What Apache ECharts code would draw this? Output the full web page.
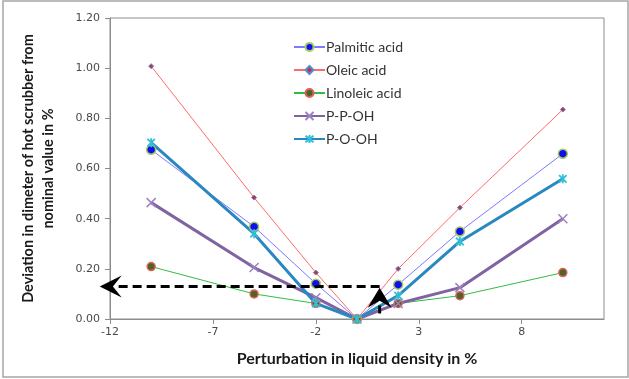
<!DOCTYPE html>
<html>
<head>
<meta charset="utf-8">
<script src="https://cdn.jsdelivr.net/npm/echarts@6/dist/echarts.min.js"></script>
<style>
  html, body { margin: 0; padding: 0; background: #fff; }
  #chart { width: 629px; height: 379px; }
</style>
</head>
<body>
<div id="chart"></div>
<script>
// Perturbation in liquid density (%)
const perturbation = [-10, -5, -2, 0, 2, 5, 10];

// Deviation in hot scrubber diameter (%) for each component
const palmitic = [0.675, 0.368, 0.141, 0.0, 0.137, 0.349, 0.659];
const oleic    = [1.008, 0.484, 0.185, 0.0, 0.200, 0.444, 0.835];
const linoleic = [0.209, 0.100, 0.062, 0.0, 0.062, 0.093, 0.185];
const ppoh     = [0.464, 0.205, 0.085, 0.0, 0.062, 0.125, 0.400];
const pooh     = [0.703, 0.340, 0.062, 0.0, 0.093, 0.309, 0.559];

const guideLevel = 0.13;
const guideX = 1.1;
const guideLeftEnd = -12.5;
const guideBottom = 0.022;
const guideTip = 0.125;

const pairs = v => perturbation.map((x, i) => [x, v[i]]);

const chart = echarts.init(document.getElementById('chart'), null, { renderer: 'canvas' });

const xMark = 'path://M0,0L10,10M10,0L0,10';
const starMark = 'path://M0,0L10,10M10,0L0,10M5,-1L5,11';

chart.setOption({
  animation: false,
  backgroundColor: '#ffffff',
  grid: { left: 110, top: 18, right: 25, bottom: 60, show: true, borderColor: '#8c8c8c', borderWidth: 1 },
  legend: {
    orient: 'vertical',
    left: 288,
    top: 35,
    itemWidth: 31,
    itemHeight: 10,
    itemGap: 9,
    textStyle: { fontFamily: 'Lato', fontSize: 14, color: '#333333', padding: [0, 0, 0, -4] },
    data: ['Palmitic acid', 'Oleic acid', 'Linoleic acid', 'P-P-OH', 'P-O-OH']
  },
  xAxis: {
    type: 'value',
    min: -12, max: 12, interval: 5,
    axisLine: { lineStyle: { color: '#8c8c8c', width: 1 } },
    axisTick: { show: true, length: 5, lineStyle: { color: '#8c8c8c' } },
    splitLine: { show: false },
    axisLabel: { fontFamily: 'DejaVu Sans', fontSize: 11, color: '#4a4a4a', margin: 8,
      showMaxLabel: false },
    name: 'Perturbation in liquid density in %',
    nameLocation: 'middle',
    nameGap: 32,
    nameTextStyle: { fontFamily: 'Lato', fontWeight: 'bold', fontSize: 16, color: '#1a1a1a' }
  },
  yAxis: {
    type: 'value',
    min: 0, max: 1.2, interval: 0.2,
    axisLine: { show: true, onZero: false, lineStyle: { color: '#8c8c8c', width: 1 } },
    axisTick: { show: true, length: 5, lineStyle: { color: '#8c8c8c' } },
    splitLine: { show: false },
    axisLabel: { fontFamily: 'DejaVu Sans', fontSize: 11, color: '#4a4a4a', margin: 10,
      formatter: v => v.toFixed(2) },
    name: 'Deviation in dimeter of hot scrubber from\nnominal value in %',
    nameLocation: 'middle',
    nameGap: 52,
    nameTextStyle: { fontFamily: 'Lato', fontWeight: 'bold', fontSize: 14.5, color: '#1a1a1a', lineHeight: 20 }
  },
  series: [
    {
      name: 'Palmitic acid', type: 'line', data: pairs(palmitic),
      lineStyle: { color: '#7b7bff', width: 1 },
      symbol: 'circle', symbolSize: 9,
      itemStyle: { color: '#1010ee', borderColor: '#a6c85c', borderWidth: 1.5 }
    },
    {
      name: 'Oleic acid', type: 'line', data: pairs(oleic),
      lineStyle: { color: '#ff6b6b', width: 1 },
      symbol: 'diamond', symbolSize: 5,
      itemStyle: { color: '#c0304d', borderColor: '#5a8cc8', borderWidth: 1 }
    },
    {
      name: 'Linoleic acid', type: 'line', data: pairs(linoleic),
      lineStyle: { color: '#33bb44', width: 1 },
      symbol: 'circle', symbolSize: 8,
      itemStyle: { color: '#4f6228', borderColor: '#e0605a', borderWidth: 1.5 }
    },
    {
      name: 'P-P-OH', type: 'line', data: pairs(ppoh),
      lineStyle: { color: '#8064a2', width: 3 },
      symbol: xMark, symbolSize: 9, symbolKeepAspect: true,
      itemStyle: { color: 'none', borderColor: '#9e82c0', borderWidth: 1.5 }
    },
    {
      name: 'P-O-OH', type: 'line', data: pairs(pooh),
      lineStyle: { color: '#2a88c0', width: 3 },
      symbol: starMark, symbolSize: 9, symbolKeepAspect: true,
      itemStyle: { color: 'none', borderColor: '#2fc0d8', borderWidth: 1.8 }
    }
  ]
});

// Outer frame and dashed guide arrows, placed through the grid's own scales
function drawOverlay() {
  const p = c => chart.convertToPixel({ gridIndex: 0 }, c);
  const corner = p([guideX, guideLevel]);
  const leftEnd = p([guideLeftEnd, guideLevel]);
  const bottom = p([guideX, guideBottom]);
  const tip = p([guideX, guideTip]);
  const w = chart.getWidth(), h = chart.getHeight();
  const dash = { stroke: '#000', lineWidth: 3, lineDash: [9, 5] };
  const headL = 22, headW = 11;

  chart.setOption({
    graphic: [
      { type: 'rect', shape: { x: 3, y: 1, width: w - 4, height: h - 3 },
        style: { fill: 'none', stroke: '#a6a6a6', lineWidth: 1.5 }, silent: true },
      { type: 'polyline', shape: { points: [corner, [leftEnd[0] + headL - 4, leftEnd[1]]] },
        style: dash, silent: true, z: 100 },
      { type: 'polygon', silent: true, z: 101,
        shape: { points: [
          [leftEnd[0], leftEnd[1]],
          [leftEnd[0] + headL, leftEnd[1] - headW],
          [leftEnd[0] + headL * 0.6, leftEnd[1]],
          [leftEnd[0] + headL, leftEnd[1] + headW]
        ] }, style: { fill: '#000' } },
      { type: 'polyline', shape: { points: [bottom, [tip[0], tip[1] + 14]] },
        style: { stroke: '#000', lineWidth: 3, lineDash: [8, 4] }, silent: true, z: 100 },
      { type: 'polygon', silent: true, z: 101,
        shape: { points: [
          [tip[0], tip[1]],
          [tip[0] + 12, tip[1] + 20],
          [tip[0], tip[1] + 13],
          [tip[0] - 12, tip[1] + 20]
        ] }, style: { fill: '#000' } }
    ]
  });
}
drawOverlay();
</script>
</body>
</html>
